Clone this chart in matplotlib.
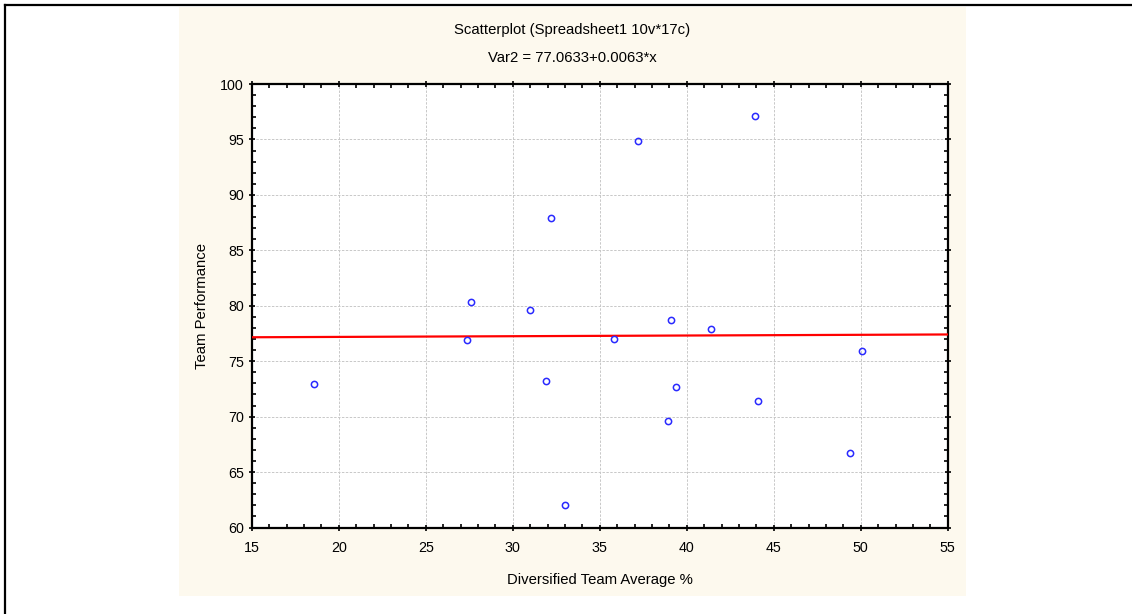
import matplotlib
matplotlib.use("Agg")
import matplotlib.pyplot as plt
import numpy as np
from matplotlib.ticker import MultipleLocator
from matplotlib.patches import Rectangle
from matplotlib.lines import Line2D

plt.rcParams['font.family'] = ['Liberation Sans', 'DejaVu Sans']

diversity = [18.6, 27.4, 27.6, 31.0, 31.9, 32.2, 33.0, 35.8, 37.2, 38.9,
             39.1, 39.4, 41.4, 43.9, 44.1, 49.4, 50.1]
performance = [72.9, 76.9, 80.3, 79.6, 73.2, 87.9, 62.0, 77.0, 94.9, 69.6,
               78.7, 72.7, 77.9, 97.1, 71.4, 66.7, 75.9]
intercept = 77.0633
slope = 0.0063

title = "Scatterplot (Spreadsheet1 10v*17c)"
subtitle = "Var2 = 77.0633+0.0063*x"
xlabel = "Diversified Team Average %"
ylabel = "Team Performance"

W, H = 1132, 614
fig = plt.figure(figsize=(W / 100, H / 100), dpi=100)
fig.patch.set_facecolor('white')

# cream panel
fig.add_artist(Rectangle((179 / W, 1 - 596 / H), 787 / W, 589 / H,
                         transform=fig.transFigure, facecolor='#fdf9ee',
                         edgecolor='none', zorder=0))
# outer border (top and left)
fig.add_artist(Line2D([5 / W, 1.0], [1 - 5 / H, 1 - 5 / H], transform=fig.transFigure,
                      color='black', lw=1.6))
fig.add_artist(Line2D([5 / W, 5 / W], [0, 1 - 5 / H], transform=fig.transFigure,
                      color='black', lw=1.6))

ax = fig.add_axes([251.7 / W, 1 - 527.5 / H, 696 / W, 443.5 / H])
ax.set_facecolor('white')
ax.set_xlim(15, 55)
ax.set_ylim(60, 100)
ax.xaxis.set_major_locator(MultipleLocator(5))
ax.xaxis.set_minor_locator(MultipleLocator(1))
ax.yaxis.set_major_locator(MultipleLocator(5))
ax.yaxis.set_minor_locator(MultipleLocator(1))
ax.grid(True, which='major', color='#c8c8c8', linestyle=(0, (2.5, 1.5)), linewidth=0.7)
ax.set_axisbelow(True)

for s in ax.spines.values():
    s.set_linewidth(1.6)
    s.set_color('black')

ax.tick_params(which='major', direction='inout', length=5, width=1.2,
               top=True, right=True, labelsize=10.3, pad=3)
ax.tick_params(axis='x', which='major', pad=7)
ax.tick_params(which='minor', direction='in', length=3, width=1.2,
               top=True, right=True)

xs = np.array([15, 55])
ax.plot(xs, intercept + slope * xs, color='#ff0000', lw=1.6, zorder=3)
ax.plot(diversity, performance, linestyle='none', marker='o', markersize=4.5,
        markerfacecolor='none', markeredgecolor='#2a2aff', markeredgewidth=1.1,
        zorder=4, clip_on=False)

ax.set_xlabel(xlabel, fontsize=10.7, labelpad=13)
ax.set_ylabel(ylabel, fontsize=10.7, labelpad=8)

fig.text(572.5 / W, 1 - 30 / H, title, ha='center', va='center', fontsize=10.7)
fig.text(572.5 / W, 1 - 58 / H, subtitle, ha='center', va='center', fontsize=10.7)

fig.savefig("out.png", dpi=100)
